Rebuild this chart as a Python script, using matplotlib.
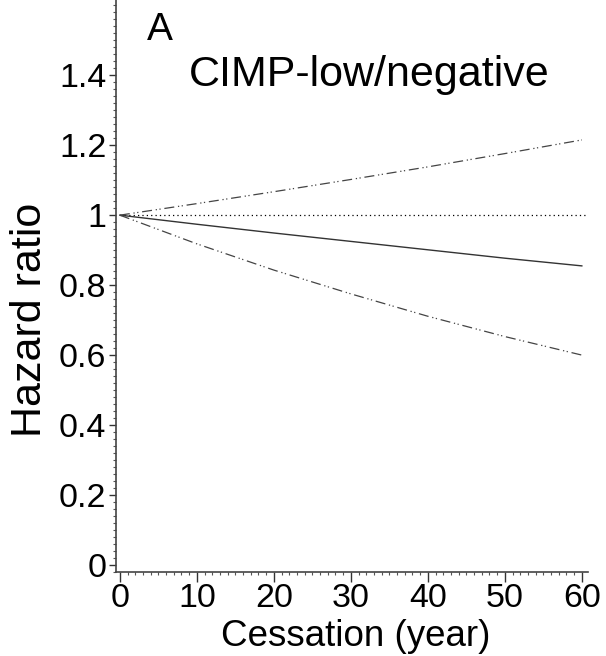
import matplotlib
matplotlib.use("Agg")
import matplotlib.pyplot as plt
from matplotlib.ticker import MultipleLocator

# values
years = [0, 10, 20, 30, 40, 50, 60]
hr = [1.0, 0.974, 0.949, 0.925, 0.901, 0.877, 0.855]
hr_upper = [1.0, 1.033, 1.067, 1.102, 1.138, 1.176, 1.215]
hr_lower = [1.0, 0.918, 0.843, 0.775, 0.711, 0.653, 0.60]
ref_x = [0, 60.8]
ref_y = [1, 1]

yticks = [0, 0.2, 0.4, 0.6, 0.8, 1, 1.2, 1.4]
yticklabels = ["0", "0.2", "0.4", "0.6", "0.8", "1", "1.2", "1.4"]
xticks = [0, 10, 20, 30, 40, 50, 60]

plt.rcParams["font.family"] = ["Liberation Sans", "DejaVu Sans"]

fig = plt.figure(figsize=(6.06, 6.56), dpi=100)
ax = fig.add_axes([116 / 606, (656 - 572) / 656, (588 - 116) / 606, 572 / 656])

ax.plot(ref_x, ref_y, color="black", linewidth=0.9, linestyle=(0, (1, 2.5)))
ax.plot(years, hr, color="#333333", linewidth=1.0, linestyle="-")
ax.plot(years, hr_upper, color="#444444", linewidth=0.9,
        linestyle=(0, (8, 3, 1, 2, 1, 3)))
ax.plot(years, hr_lower, color="#444444", linewidth=0.9,
        linestyle=(0, (8, 3, 1, 2, 1, 3)))

ax.set_xlim(-0.5, 60.8)
ax.set_ylim(-0.02, 1.615)

ax.set_yticks(yticks)
ax.set_yticklabels(yticklabels)
ax.set_xticks(xticks)
ax.xaxis.set_minor_locator(MultipleLocator(1))
ax.yaxis.set_minor_locator(MultipleLocator(0.02))

ax.tick_params(axis="both", which="major", direction="out", length=5,
               width=1, labelsize=24.5, color="#333333")
ax.tick_params(axis="x", which="major", length=7, pad=1)
ax.tick_params(axis="y", which="major", pad=2)
ax.tick_params(axis="both", which="minor", direction="out", length=2.5,
               width=0.8, color="#555555")

for side in ["top", "right"]:
    ax.spines[side].set_visible(False)
for side in ["left", "bottom"]:
    ax.spines[side].set_color("#444444")
    ax.spines[side].set_linewidth(1.2)

ax.set_ylabel("Hazard ratio", fontsize=31, va="center")
ax.yaxis.set_label_coords(-0.182, 0.44)
ax.set_xlabel("Cessation (year)", fontsize=26.5)
ax.xaxis.set_label_coords(0.508, -0.082)

ax.text(5.2, 1.5, "A", fontsize=28, ha="center", va="baseline")
ax.text(32.4, 1.369, "CIMP-low/negative", fontsize=31, ha="center",
        va="baseline")

fig.savefig("out.png", dpi=100)
